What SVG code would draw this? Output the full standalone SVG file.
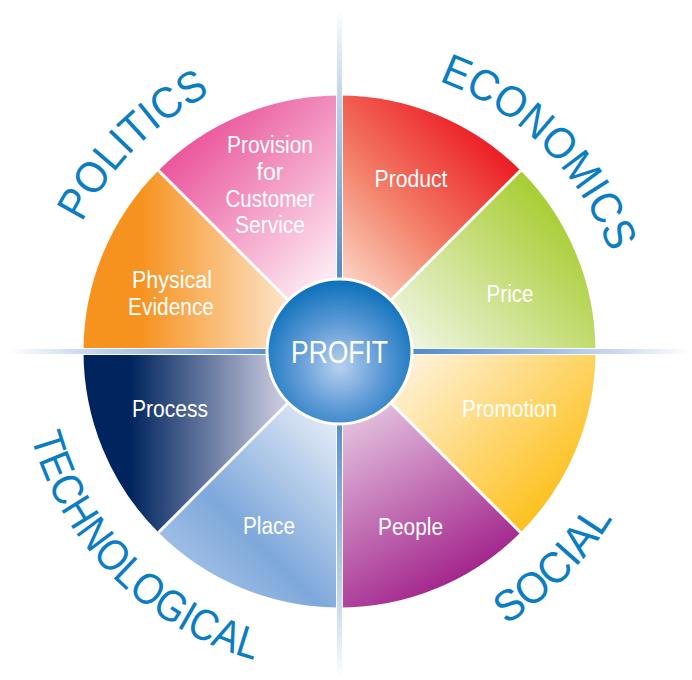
<svg xmlns="http://www.w3.org/2000/svg" xmlns:xlink="http://www.w3.org/1999/xlink" width="692" height="680" viewBox="0 0 692 680">
<style>
.lbl{font-family:"Liberation Sans",Arial,sans-serif;font-size:23px;fill:#ffffff;text-anchor:middle}
.pest{font-family:"Liberation Sans",Arial,sans-serif;font-size:44px;fill:#0b7dc3;text-anchor:middle}
.sep{stroke:#ffffff;stroke-width:3;fill:none}
</style>
<defs>
<linearGradient id="gProv" gradientUnits="userSpaceOnUse" x1="339.5" y1="351.5" x2="158" y2="170">
<stop offset="0.25" stop-color="#fde8f1"/><stop offset="1" stop-color="#ea559b"/></linearGradient>
<linearGradient id="gProd" gradientUnits="userSpaceOnUse" x1="339.5" y1="351.5" x2="521" y2="170">
<stop offset="0.2" stop-color="#fbd6c6"/><stop offset="0.55" stop-color="#f3826a"/><stop offset="1" stop-color="#ec1c24"/></linearGradient>
<linearGradient id="gPrice" gradientUnits="userSpaceOnUse" x1="339.5" y1="351.5" x2="521" y2="170">
<stop offset="0.2" stop-color="#f0f6e4"/><stop offset="1" stop-color="#a8cd32"/></linearGradient>
<linearGradient id="gProm" gradientUnits="userSpaceOnUse" x1="339.5" y1="351.5" x2="521" y2="533">
<stop offset="0.2" stop-color="#fff3de"/><stop offset="1" stop-color="#fdc11e"/></linearGradient>
<linearGradient id="gPeop" gradientUnits="userSpaceOnUse" x1="339.5" y1="351.5" x2="475" y2="580">
<stop offset="0.2" stop-color="#e6c9e3"/><stop offset="1" stop-color="#a01f89"/></linearGradient>
<linearGradient id="gPlace" gradientUnits="userSpaceOnUse" x1="339.5" y1="351.5" x2="158" y2="533">
<stop offset="0.15" stop-color="#edf2fa"/><stop offset="0.75" stop-color="#7ea8db"/><stop offset="1" stop-color="#9ebde5"/></linearGradient>
<linearGradient id="gProc" gradientUnits="userSpaceOnUse" x1="339.5" y1="0" x2="130" y2="0">
<stop offset="0" stop-color="#e6e6ef"/><stop offset="0.3" stop-color="#c3c5da"/><stop offset="1" stop-color="#00245e"/></linearGradient>
<linearGradient id="gPhys" gradientUnits="userSpaceOnUse" x1="339.5" y1="0" x2="140" y2="0">
<stop offset="0.25" stop-color="#fde5cb"/><stop offset="1" stop-color="#f6921e"/></linearGradient>
<linearGradient id="gBarH" gradientUnits="userSpaceOnUse" x1="8" y1="0" x2="690" y2="0">
<stop offset="0" stop-color="#ffffff"/><stop offset="0.12" stop-color="#c6d6ef"/><stop offset="0.38" stop-color="#5790cf"/><stop offset="0.5" stop-color="#3d84ca"/><stop offset="0.62" stop-color="#5790cf"/><stop offset="0.88" stop-color="#c6d6ef"/><stop offset="1" stop-color="#ffffff"/></linearGradient>
<linearGradient id="gBarV" gradientUnits="userSpaceOnUse" x1="0" y1="8" x2="0" y2="680">
<stop offset="0" stop-color="#ffffff"/><stop offset="0.12" stop-color="#c6d6ef"/><stop offset="0.38" stop-color="#5790cf"/><stop offset="0.5" stop-color="#3d84ca"/><stop offset="0.62" stop-color="#5790cf"/><stop offset="0.88" stop-color="#c6d6ef"/><stop offset="1" stop-color="#ffffff"/></linearGradient>
<radialGradient id="gHub" cx="339.5" cy="366" r="86" gradientUnits="userSpaceOnUse">
<stop offset="0" stop-color="#b9d1ef"/><stop offset="0.5" stop-color="#5d9ad6"/><stop offset="1" stop-color="#0a70ba"/></radialGradient>
<path id="arcPol" d="M51.5,351.5 A288,288 0 0 1 339.5,63.5"/>
<path id="arcEco" d="M339.5,63.5 A288,288 0 0 1 627.5,351.5"/>
<path id="arcTech" d="M19.5,351.5 A320,320 0 0 0 339.5,671.5"/>
<path id="arcSoc" d="M339.5,671.5 A320,320 0 0 0 659.5,351.5"/>
</defs>
<rect width="692" height="680" fill="#ffffff"/>

<g id="provision">
<path d="M339.5,351.5 L158.48,170.48 A256,256 0 0 1 339.5,95.5 Z" fill="url(#gProv)"/>
<text class="lbl" x="270" y="153" textLength="86" lengthAdjust="spacingAndGlyphs">Provision</text>
<text class="lbl" x="270" y="180">for</text>
<text class="lbl" x="270" y="207" textLength="89" lengthAdjust="spacingAndGlyphs">Customer</text>
<text class="lbl" x="270" y="233" textLength="70" lengthAdjust="spacingAndGlyphs">Service</text>
</g>
<g id="product">
<path d="M339.5,351.5 L339.5,95.5 A256,256 0 0 1 520.52,170.48 Z" fill="url(#gProd)"/>
<text class="lbl" x="411" y="187" textLength="73" lengthAdjust="spacingAndGlyphs">Product</text>
</g>
<g id="price">
<path d="M339.5,351.5 L520.52,170.48 A256,256 0 0 1 595.5,351.5 Z" fill="url(#gPrice)"/>
<text class="lbl" x="510" y="302" textLength="47" lengthAdjust="spacingAndGlyphs">Price</text>
</g>
<g id="promotion">
<path d="M339.5,351.5 L595.5,351.5 A256,256 0 0 1 520.52,532.52 Z" fill="url(#gProm)"/>
<text class="lbl" x="509.5" y="417" textLength="95" lengthAdjust="spacingAndGlyphs">Promotion</text>
</g>
<g id="people">
<path d="M339.5,351.5 L520.52,532.52 A256,256 0 0 1 339.5,607.5 Z" fill="url(#gPeop)"/>
<text class="lbl" x="410.5" y="535" textLength="65" lengthAdjust="spacingAndGlyphs">People</text>
</g>
<g id="place">
<path d="M339.5,351.5 L339.5,607.5 A256,256 0 0 1 158.48,532.52 Z" fill="url(#gPlace)"/>
<text class="lbl" x="269" y="534" textLength="52" lengthAdjust="spacingAndGlyphs">Place</text>
</g>
<g id="process">
<path d="M339.5,351.5 L158.48,532.52 A256,256 0 0 1 83.5,351.5 Z" fill="url(#gProc)"/>
<text class="lbl" x="170" y="417" textLength="76" lengthAdjust="spacingAndGlyphs">Process</text>
</g>
<g id="physical-evidence">
<path d="M339.5,351.5 L83.5,351.5 A256,256 0 0 1 158.48,170.48 Z" fill="url(#gPhys)"/>
<text class="lbl" x="172" y="288" textLength="80" lengthAdjust="spacingAndGlyphs">Physical</text>
<text class="lbl" x="171" y="315" textLength="86" lengthAdjust="spacingAndGlyphs">Evidence</text>
</g>

<g id="connectors">
<line class="sep" x1="339.5" y1="351.5" x2="158.48" y2="170.48"/>
<line class="sep" x1="339.5" y1="351.5" x2="520.52" y2="170.48"/>
<line class="sep" x1="339.5" y1="351.5" x2="520.52" y2="532.52"/>
<line class="sep" x1="339.5" y1="351.5" x2="158.48" y2="532.52"/>
<line x1="83" y1="351.5" x2="596" y2="351.5" stroke="#ffffff" stroke-width="7"/>
<line x1="339.5" y1="95" x2="339.5" y2="608" stroke="#ffffff" stroke-width="7"/>
<rect x="8" y="349" width="682" height="5" fill="url(#gBarH)"/>
<rect x="337" y="8" width="5" height="672" fill="url(#gBarV)"/>
</g>

<g id="profit">
<circle cx="339.5" cy="351.5" r="74" fill="#ffffff"/>
<circle cx="339.5" cy="351.5" r="71" fill="url(#gHub)"/>
<text x="339.5" y="363" font-family="Liberation Sans, Arial, sans-serif" font-size="32" fill="#ffffff" text-anchor="middle" textLength="97" lengthAdjust="spacingAndGlyphs">PROFIT</text>
</g>

<g id="politics"><text class="pest"><textPath xlink:href="#arcPol" href="#arcPol" startOffset="50%" textLength="185" lengthAdjust="spacingAndGlyphs">POLITICS</textPath></text></g>
<g id="economics"><text class="pest"><textPath xlink:href="#arcEco" href="#arcEco" startOffset="50%" textLength="250" lengthAdjust="spacingAndGlyphs">ECONOMICS</textPath></text></g>
<g id="technological"><text class="pest"><textPath xlink:href="#arcTech" href="#arcTech" startOffset="50%" textLength="330" lengthAdjust="spacingAndGlyphs">TECHNOLOGICAL</textPath></text></g>
<g id="social"><text class="pest"><textPath xlink:href="#arcSoc" href="#arcSoc" startOffset="50%" textLength="152" lengthAdjust="spacingAndGlyphs">SOCIAL</textPath></text></g>
</svg>
